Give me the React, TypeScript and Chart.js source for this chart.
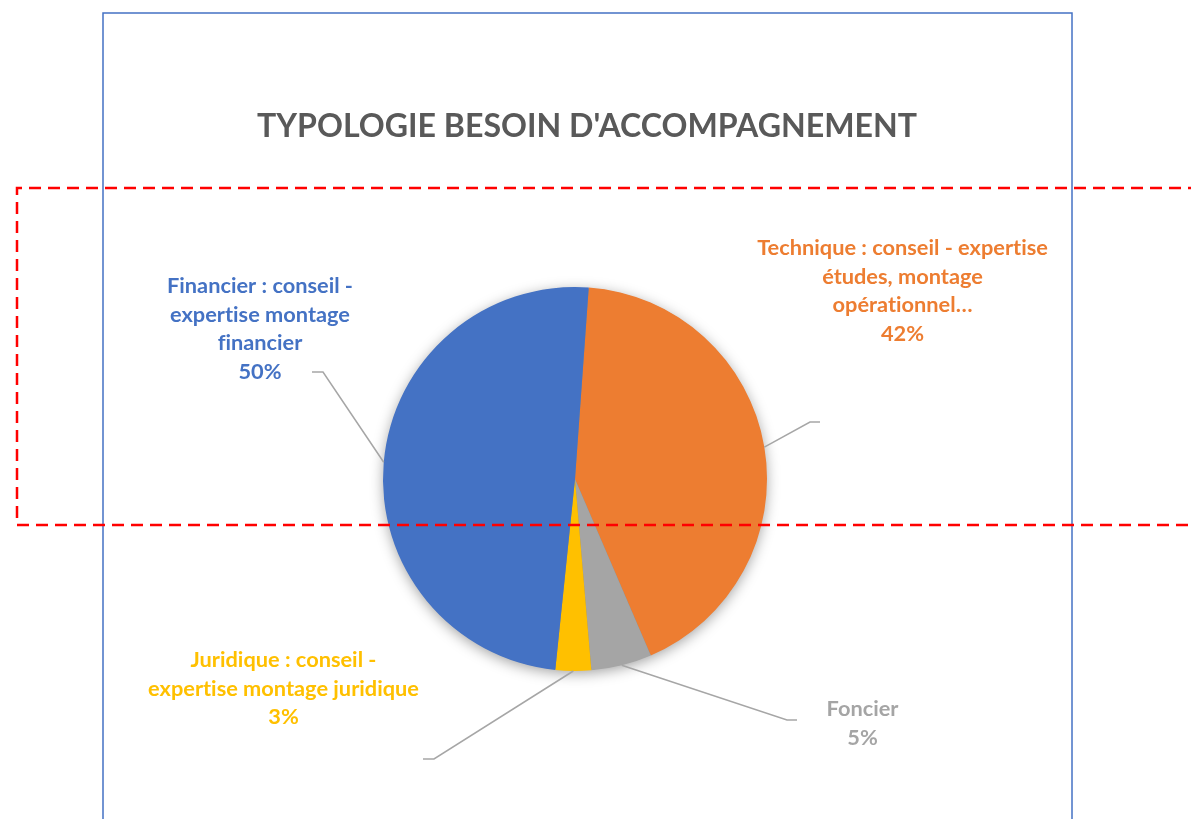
import React, { useEffect, useRef } from "react";
import { Chart, registerables } from "chart.js";

Chart.register(...registerables);

// ---------- data ----------
const categories: string[][] = [
  ["Technique : conseil - expertise", "études, montage", "opérationnel…"],
  ["Foncier"],
  ["Juridique : conseil -", "expertise montage juridique"],
  ["Financier : conseil -", "expertise montage", "financier"],
];
const values = [42.4, 5.1, 3.0, 49.5];
const sliceColors = ["#ED7D31", "#A5A5A5", "#FFC000", "#4472C4"];
const titleText = "TYPOLOGIE BESOIN D'ACCOMPAGNEMENT";

// ---------- layout (positions / styles) ----------
const W = 1191;
const H = 819;
const FONT = "Lato, 'Open Sans', sans-serif";
const labelLayout = [
  { cx: 902.5, baseline: 255, elbow: [810, 422], end: [820, 422] },
  { cx: 862.5, baseline: 716, elbow: [787, 720], end: [797, 720] },
  { cx: 283.5, baseline: 667, elbow: [434, 759], end: [423, 759] },
  { cx: 260, baseline: 293, elbow: [323, 372], end: [312, 372] },
];
const LINE_H = 28.5;

function noLigatures(ctx: any) {
  try {
    ctx.textRendering = "optimizeSpeed";
  } catch (e) {}
}

function fitSize(ctx: CanvasRenderingContext2D, text: string, target: number, weight: string) {
  ctx.font = `${weight} 100px ${FONT}`;
  const w = ctx.measureText(text).width;
  return (100 * target) / w;
}

const decorPlugin = {
  id: "decor",
  beforeDraw(chart: any) {
    const ctx: CanvasRenderingContext2D = chart.ctx;
    ctx.save();
    noLigatures(ctx);
    ctx.fillStyle = "#FFFFFF";
    ctx.fillRect(0, 0, W, H);
    // chart frame
    ctx.strokeStyle = "#4472C4";
    ctx.lineWidth = 1.5;
    ctx.strokeRect(103, 13, 1072 - 103, 840);
    // title
    const ts = fitSize(ctx, titleText, 660, "bold");
    ctx.font = `bold ${ts}px ${FONT}`;
    ctx.fillStyle = "#595959";
    ctx.textAlign = "center";
    ctx.textBaseline = "alphabetic";
    ctx.fillText(titleText, 587, 137);
    ctx.restore();
  },
  beforeDatasetsDraw(chart: any) {
    const ctx: CanvasRenderingContext2D = chart.ctx;
    const meta = chart.getDatasetMeta(0);
    const arc = meta.data[0];
    if (!arc) return;
    const { x, y, outerRadius } = arc.getProps(["x", "y", "outerRadius"], true);
    ctx.save();
    ctx.shadowColor = "rgba(0,0,0,0.38)";
    ctx.shadowBlur = 14;
    ctx.shadowOffsetY = 3;
    ctx.beginPath();
    ctx.arc(x, y, outerRadius - 0.8, 0, Math.PI * 2);
    ctx.fillStyle = "#888888";
    ctx.fill();
    ctx.restore();
  },
  afterDatasetsDraw(chart: any) {
    const ctx: CanvasRenderingContext2D = chart.ctx;
    const meta = chart.getDatasetMeta(0);
    const total = values.reduce((a, b) => a + b, 0);
    ctx.save();
    noLigatures(ctx);
    const fs = fitSize(ctx, categories[0][0], 291, "bold");
    meta.data.forEach((arc: any, i: number) => {
      const p = arc.getProps(["x", "y", "startAngle", "endAngle", "outerRadius"], true);
      const mid = (p.startAngle + p.endAngle) / 2;
      const sx = p.x + Math.cos(mid) * p.outerRadius;
      const sy = p.y + Math.sin(mid) * p.outerRadius;
      const L = labelLayout[i];
      ctx.strokeStyle = "#A6A6A6";
      ctx.lineWidth = 1.5;
      ctx.beginPath();
      ctx.moveTo(sx, sy);
      ctx.lineTo(L.elbow[0], L.elbow[1]);
      ctx.lineTo(L.end[0], L.end[1]);
      ctx.stroke();

      const lines = [...categories[i], `${Math.round((values[i] / total) * 100)}%`];
      ctx.font = `bold ${fs}px ${FONT}`;
      ctx.fillStyle = sliceColors[i];
      ctx.textAlign = "center";
      ctx.textBaseline = "alphabetic";
      lines.forEach((ln, k) => {
        ctx.fillText(ln, L.cx, L.baseline + k * LINE_H);
      });
    });
    ctx.restore();
  },
  afterDraw(chart: any) {
    const ctx: CanvasRenderingContext2D = chart.ctx;
    ctx.save();
    ctx.strokeStyle = "#FF0000";
    ctx.lineWidth = 2.5;
    ctx.setLineDash([12, 7]);
    ctx.beginPath();
    ctx.moveTo(1200, 188);
    ctx.lineTo(17, 188);
    ctx.lineTo(17, 525);
    ctx.lineTo(1200, 525);
    ctx.stroke();
    ctx.restore();
  },
};

export default function App() {
  const ref = useRef<HTMLCanvasElement | null>(null);
  useEffect(() => {
    if (!ref.current) return;
    const chart = new Chart(ref.current, {
      type: "pie",
      data: {
        labels: categories,
        datasets: [
          {
            data: values,
            backgroundColor: sliceColors,
            borderWidth: 0,
            hoverOffset: 0,
          },
        ],
      },
      options: {
        responsive: false,
        animation: false,
        rotation: 4.1,
        layout: { padding: { left: 383, right: 424, top: 287, bottom: 148 } },
        plugins: {
          legend: { display: false },
          tooltip: { enabled: false },
          title: { display: false },
        },
        events: [],
      },
      plugins: [decorPlugin],
    });
    return () => chart.destroy();
  }, []);
  return (
    <div style={{ position: "fixed", left: 0, top: 0, width: W, height: H, background: "#fff" }}>
      <canvas ref={ref} width={W} height={H} style={{ width: W, height: H, display: "block" }} />
    </div>
  );
}
